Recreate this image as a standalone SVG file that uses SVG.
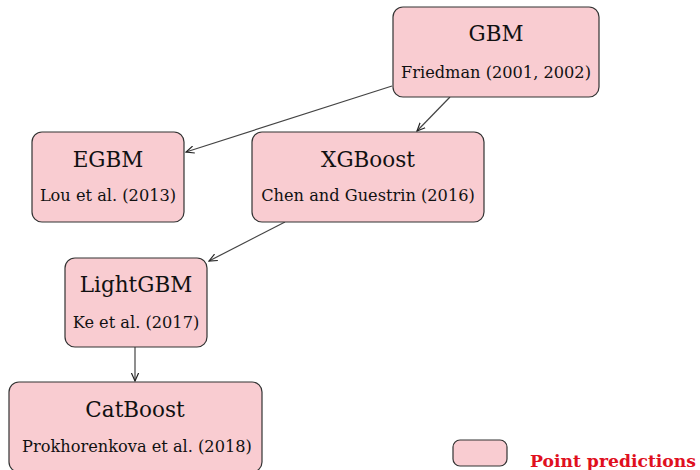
<svg xmlns="http://www.w3.org/2000/svg" width="700" height="470" viewBox="0 0 700 470">
  <style>
    .box { fill: #f9ccd1; stroke: #333333; stroke-width: 1.2; }
    .title { font-family: "DejaVu Serif", "Liberation Serif", serif; font-size: 21.5px; fill: #111111; text-anchor: middle; }
    .sub { font-family: "DejaVu Serif", "Liberation Serif", serif; font-size: 16.2px; fill: #111111; text-anchor: middle; }
    .edge { fill: none; stroke: #444444; stroke-width: 1.2; marker-end: url(#arrow); }
    .legend { font-family: "DejaVu Serif", "Liberation Serif", serif; font-size: 17.2px; font-weight: bold; fill: #e0101e; }
  </style>
  <defs>
    <marker id="arrow" viewBox="0 0 10 10" refX="9" refY="5" markerWidth="9" markerHeight="9" markerUnits="userSpaceOnUse" orient="auto">
      <path d="M0,1 L9,5 L0,9" fill="none" stroke="#222222" stroke-width="1.3"/>
    </marker>
  </defs>
  <rect width="700" height="470" fill="#ffffff"/>

  <g id="connectors">
    <line class="edge" x1="392" y1="86" x2="186" y2="152"/>
    <line class="edge" x1="450" y1="97" x2="417" y2="131"/>
    <line class="edge" x1="285" y1="222" x2="209" y2="261"/>
    <line class="edge" x1="135" y1="347" x2="135" y2="381"/>
  </g>

  <g id="gbm">
    <rect class="box" x="393" y="7" width="206" height="90" rx="10"/>
    <text class="title" x="496" y="41">GBM</text>
    <text class="sub" x="496" y="78">Friedman (2001, 2002)</text>
  </g>

  <g id="egbm">
    <rect class="box" x="32" y="132" width="152" height="90" rx="10"/>
    <text class="title" x="108" y="167">EGBM</text>
    <text class="sub" x="108" y="201">Lou et al. (2013)</text>
  </g>

  <g id="xgboost">
    <rect class="box" x="252" y="132" width="232" height="90" rx="10"/>
    <text class="title" x="368" y="167">XGBoost</text>
    <text class="sub" x="368" y="201">Chen and Guestrin (2016)</text>
  </g>

  <g id="lightgbm">
    <rect class="box" x="65" y="258" width="142" height="89" rx="10"/>
    <text class="title" x="136" y="292">LightGBM</text>
    <text class="sub" x="136" y="328">Ke et al. (2017)</text>
  </g>

  <g id="catboost">
    <rect class="box" x="9" y="382" width="253" height="90" rx="10"/>
    <text class="title" x="135" y="417">CatBoost</text>
    <text class="sub" x="137" y="452">Prokhorenkova et al. (2018)</text>
  </g>

  <g id="legend">
    <rect class="box" x="453" y="440" width="54" height="26" rx="7"/>
    <text class="legend" x="530" y="467">Point predictions</text>
  </g>
</svg>
